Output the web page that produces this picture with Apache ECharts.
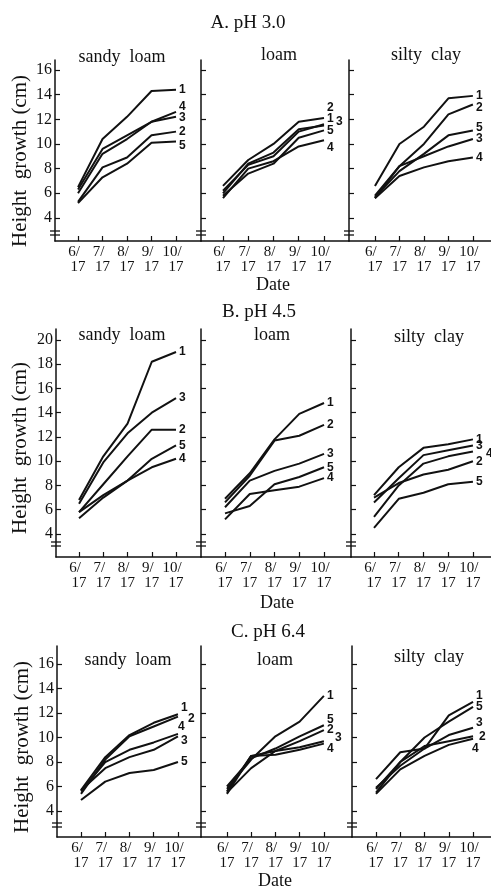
<!DOCTYPE html>
<html><head><meta charset="utf-8">
<script src="https://cdn.jsdelivr.net/npm/echarts@6/dist/echarts.min.js"></script>
<style>html,body{margin:0;padding:0;background:#fff}#c{width:491px;height:890px}</style>
</head><body><div id="c"></div>
<script>
// ---------- data ----------
const dates = ['6/17', '7/17', '8/17', '9/17', '10/17'];
const soils = ['sandy loam', 'loam', 'silty clay'];
const phTitles = ['A. pH 3.0', 'B. pH 4.5', 'C. pH 6.4'];
const lineNames = ['1', '2', '3', '4', '5'];
const yTicksA = [4, 6, 8, 10, 12, 14, 16];
const yTicksB = [4, 6, 8, 10, 12, 14, 16, 18, 20];
const yTicksC = [4, 6, 8, 10, 12, 14, 16];
const yTitle = 'Height  growth (cm)';
const xTitle = 'Date';

// each panel: lines 1..5, values at the five dates
const pH30_sandyLoam = [
  [6.5, 10.4, 12.2, 14.3, 14.4],
  [5.3, 8.1, 8.9, 10.7, 11.0],
  [6.0, 9.2, 10.4, 11.8, 12.2],
  [6.3, 9.6, 10.7, 11.8, 12.6],
  [5.2, 7.3, 8.4, 10.1, 10.2]
];
const pH30_loam = [
  [6.2, 8.3, 9.0, 11.0, 11.6],
  [6.6, 8.7, 10.0, 11.8, 12.1],
  [6.0, 8.4, 9.3, 11.2, 11.5],
  [5.6, 8.0, 8.6, 9.8, 10.3],
  [5.8, 7.6, 8.4, 10.5, 11.1]
];
const pH30_siltyClay = [
  [6.6, 10.0, 11.4, 13.7, 13.9],
  [5.6, 8.2, 10.0, 12.4, 13.2],
  [5.8, 8.2, 9.0, 9.8, 10.4],
  [5.6, 7.4, 8.1, 8.6, 8.9],
  [5.7, 7.8, 9.2, 10.7, 11.1]
];
const pH45_sandyLoam = [
  [6.8, 10.4, 13.1, 18.2, 19.0],
  [5.8, 8.1, 10.4, 12.6, 12.6],
  [6.5, 9.9, 12.3, 14.0, 15.2],
  [5.8, 7.2, 8.4, 9.5, 10.2],
  [5.3, 7.0, 8.4, 10.2, 11.3]
];
const pH45_loam = [
  [6.9, 9.0, 11.8, 13.9, 14.8],
  [6.6, 8.8, 11.7, 12.1, 13.0],
  [6.2, 8.4, 9.2, 9.8, 10.6],
  [5.2, 7.3, 7.6, 7.9, 8.6],
  [5.7, 6.3, 8.1, 8.7, 9.5]
];
const pH45_siltyClay = [
  [7.2, 9.5, 11.1, 11.4, 11.8],
  [7.0, 8.2, 8.9, 9.3, 10.0],
  [6.6, 8.6, 10.5, 10.9, 11.3],
  [5.4, 8.0, 9.8, 10.4, 10.8],
  [4.5, 6.9, 7.4, 8.1, 8.3]
];
const pH64_sandyLoam = [
  [5.7, 8.4, 10.2, 11.2, 11.9],
  [5.4, 8.2, 10.1, 10.9, 11.7],
  [5.7, 7.5, 8.4, 9.0, 10.1],
  [5.6, 8.0, 9.0, 9.6, 10.3],
  [4.9, 6.4, 7.1, 7.35, 8.0]
];
const pH64_loam = [
  [5.8, 8.2, 10.1, 11.3, 13.4],
  [5.6, 8.5, 8.9, 9.7, 10.6],
  [5.5, 7.5, 8.9, 9.2, 9.7],
  [5.4, 8.5, 8.6, 9.0, 9.5],
  [6.0, 8.3, 9.1, 10.1, 11.0]
];
const pH64_siltyClay = [
  [6.6, 8.8, 9.1, 11.8, 12.9],
  [5.5, 8.0, 9.3, 9.7, 10.1],
  [5.9, 7.7, 9.1, 10.2, 10.8],
  [5.4, 7.4, 8.5, 9.4, 9.9],
  [5.8, 8.0, 10.0, 11.3, 12.5]
];

// ---------- layout (positions / styles) ----------
const FONT = '"Liberation Serif", "DejaVu Serif", serif';
const rows = [
  { data: [pH30_sandyLoam, pH30_loam, pH30_siltyClay], ticks: yTicksA,
    top: 60, bottom: 241, ymin: 2.13, ymax: 16.81, brk: [10, 6],
    title: [248, 23], date: [273, 285], ytl: [20, 161], sub: [[122, 57], [279, 55], [426, 55]],
    panels: [{ left: 55, w: 146, xmin: -0.94, xmax: 5.02 }, { left: 201, w: 148, xmin: -0.87, xmax: 4.99 }, { left: 349, w: 142, xmin: -1.06, xmax: 4.74 }],
    lab: [[[0, 0], [0, 0], [0, 1], [0, -5], [0, 4]], [[0, -6], [0, -10], [9, -4], [0, 7], [0, 0]], [[0, 0], [0, 3], [0, 0], [0, 0], [0, -3]]] },
  { data: [pH45_sandyLoam, pH45_loam, pH45_siltyClay], ticks: yTicksB,
    top: 329, bottom: 557, ymin: 2.10, ymax: 20.9, brk: [15, 11],
    title: [259, 312], date: [277, 603], ytl: [20, 448], sub: [[122, 335], [272, 335], [429, 337]],
    panels: [{ left: 56, w: 145, xmin: -0.95, xmax: 5.03 }, { left: 201, w: 150, xmin: -0.97, xmax: 5.09 }, { left: 351, w: 140, xmin: -0.93, xmax: 4.73 }],
    lab: [[[0, 0], [0, 0], [0, 0], [0, 0], [0, 0]], [[0, 0], [0, 0], [0, 0], [0, 0], [0, 0]], [[0, 0], [0, 0], [0, 0], [10, 2], [0, 0]]] },
  { data: [pH64_sandyLoam, pH64_loam, pH64_siltyClay], ticks: yTicksC,
    top: 646, bottom: 837, ymin: 1.88, ymax: 17.47, brk: [14, 10],
    title: [268, 632], date: [275, 881], ytl: [22, 747], sub: [[128, 660], [275, 660], [429, 657]],
    panels: [{ left: 57, w: 144, xmin: -0.99, xmax: 4.95 }, { left: 201, w: 151, xmin: -1.07, xmax: 5.16 }, { left: 352, w: 139, xmin: -0.99, xmax: 4.74 }],
    lab: [[[0, -7], [7, 2], [0, 4], [-3, -7], [0, 0]], [[0, 0], [0, 0], [8, -4], [0, 5], [0, -6]], [[0, -6], [3, 0], [0, -5], [-4, 10], [0, 0]]] }
];

const grids = [], xAxes = [], yAxes = [], series = [];
rows.forEach((r, ri) => {
  r.panels.forEach((p, pi) => {
    const gi = grids.length;
    grids.push({ left: p.left, top: r.top, width: p.w, height: r.bottom - r.top, containLabel: false });
    xAxes.push({
      gridIndex: gi, type: 'value', min: p.xmin, max: p.xmax,
      splitLine: { show: false },
      axisLine: { show: true, onZero: false, lineStyle: { color: '#111', width: 1.5 } },
      axisTick: { show: true, inside: true, length: 5, lineStyle: { color: '#111', width: 1.2 }, customValues: [0, 1, 2, 3, 4] },
      axisLabel: {
        show: true, customValues: [0, 1, 2, 3, 4], margin: 4,
        formatter: v => { const d = dates[Math.round(v)].split('/'); return '{a|' + d[0] + '/}\n{b|' + d[1] + '}'; },
        rich: {
          a: { fontFamily: FONT, fontSize: 15, color: '#111', padding: [0, 8, 0, 0], lineHeight: 15 },
          b: { fontFamily: FONT, fontSize: 15, color: '#111', lineHeight: 15 }
        }
      }
    });
    yAxes.push({
      gridIndex: gi, type: 'value', min: r.ymin, max: r.ymax,
      splitLine: { show: false },
      axisLine: { show: true, onZero: false, lineStyle: { color: '#111', width: 1.5 } },
      axisTick: { show: true, inside: true, length: 5, lineStyle: { color: '#111', width: 1.2 }, customValues: r.ticks },
      axisLabel: { show: pi === 0, customValues: r.ticks, margin: 3, fontFamily: FONT, fontSize: 16, color: '#111' }
    });
    const panelData = r.data[pi];
    panelData.forEach((vals, li) => {
      const off = r.lab[pi][li];
      series.push({
        type: 'line', name: lineNames[li], xAxisIndex: gi, yAxisIndex: gi,
        data: vals.map((v, i) => [i, v]),
        symbol: 'none', silent: true, animation: false,
        lineStyle: { color: '#111', width: 2 },
        endLabel: { show: true, formatter: lineNames[li], distance: 3, offset: off,
          fontFamily: '"Liberation Sans", Arial, sans-serif', fontWeight: 'bold', fontSize: 12, color: '#111' }
      });
    });
  });
});

const chart = echarts.init(document.getElementById('c'), null, { renderer: 'canvas' });
chart.setOption({ backgroundColor: '#fff', animation: false, grid: grids, xAxis: xAxes, yAxis: yAxes, series: series });

// text + axis break marks
const graphics = [];
function txt(t, x, y, size, rot) {
  graphics.push({ type: 'text', x: x, y: y, rotation: rot || 0, silent: true,
    style: { text: t, fontFamily: FONT, fontSize: size, fill: '#111', align: 'center', verticalAlign: 'middle' } });
}
rows.forEach((r, ri) => {
  txt(phTitles[ri], r.title[0], r.title[1], 19);
  txt(xTitle, r.date[0], r.date[1], 18);
  txt(yTitle, r.ytl[0], r.ytl[1], 21, Math.PI / 2);
  r.panels.forEach((p, pi) => {
    txt(soils[pi].replace(' ', '  '), r.sub[pi][0], r.sub[pi][1], 18);
    const gi = ri * 3 + pi;
    const pt = chart.convertToPixel({ gridIndex: gi }, [p.xmin, r.ymin]);
    r.brk.forEach(o => {
      graphics.push({ type: 'line', silent: true,
        shape: { x1: pt[0] - 5, y1: pt[1] - o, x2: pt[0] + 5, y2: pt[1] - o },
        style: { stroke: '#111', lineWidth: 1.3 } });
    });
  });
});
chart.setOption({ graphic: graphics });
</script>
</body></html>
